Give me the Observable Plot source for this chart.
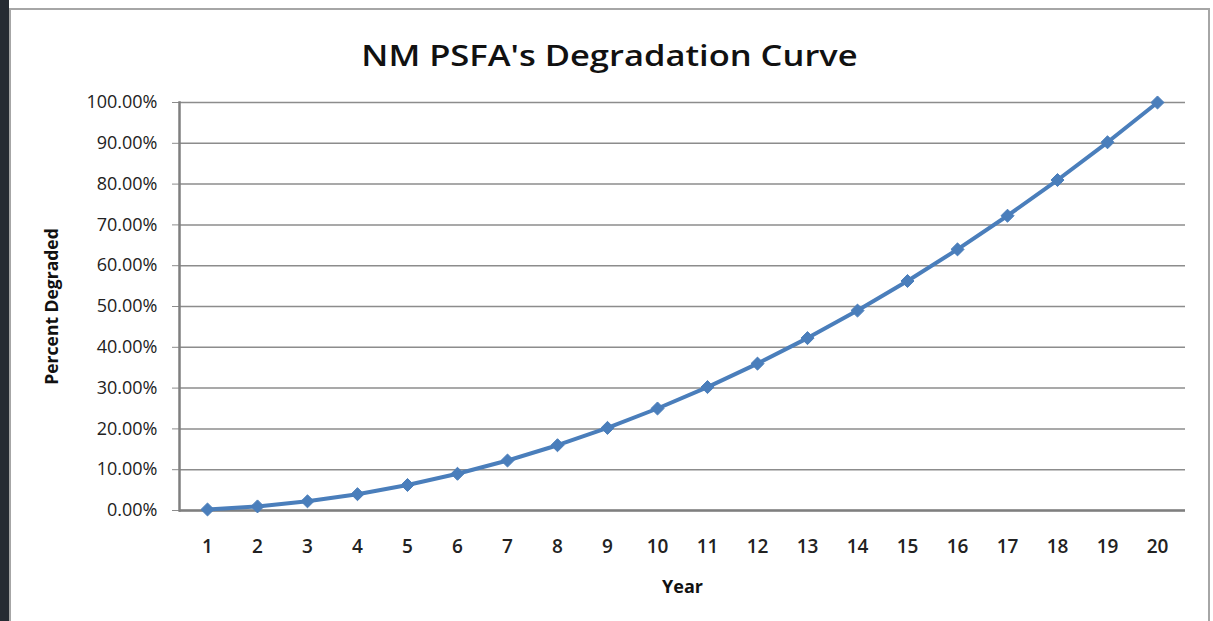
<!DOCTYPE html>
<html>
<head>
<meta charset="utf-8">
<script src="https://cdn.jsdelivr.net/npm/d3@7"></script>
<script src="https://cdn.jsdelivr.net/npm/@observablehq/plot@0.6"></script>
<style>
  html, body { margin: 0; padding: 0; background: #ffffff; width: 1213px; height: 621px; overflow: hidden; }
  #strip { position: absolute; left: 0; top: 0; width: 9px; height: 621px; background: #262b33; }
  #panel { position: absolute; left: 9px; top: 8px; width: 1197px; height: 640px; border: 2px solid #a6a6a6; background: #fff; }
  #title { position: absolute; left: 0; top: 35px; width: 1219px; text-align: center; font-family: "Open Sans", sans-serif; font-weight: 600; font-size: 29px; color: #111; transform: scaleX(1.19); transform-origin: 609.5px 50%; }
  #chart { position: absolute; left: 0; top: 0; }
  #chart svg { background: transparent !important; }
</style>
</head>
<body>
<div id="strip"></div>
<div id="panel"></div>
<div id="title">NM PSFA's Degradation Curve</div>
<div id="chart"></div>
<script>
const years = ["1","2","3","4","5","6","7","8","9","10","11","12","13","14","15","16","17","18","19","20"];
const percentDegraded = [0.0025, 0.01, 0.0225, 0.04, 0.0625, 0.09, 0.1225, 0.16, 0.2025, 0.25, 0.3025, 0.36, 0.4225, 0.49, 0.5625, 0.64, 0.7225, 0.81, 0.9025, 1.0];
const yTicks = [0, 0.1, 0.2, 0.3, 0.4, 0.5, 0.6, 0.7, 0.8, 0.9, 1.0];

const data = years.map((y, i) => ({year: y, value: percentDegraded[i]}));

const diamond = {
  draw(context, size) {
    const h = Math.sqrt(size / 2);
    context.moveTo(0, -h);
    context.lineTo(h, 0);
    context.lineTo(0, h);
    context.lineTo(-h, 0);
    context.closePath();
  }
};

const blue = "#4a7ebb";
const font = "'Open Sans', sans-serif";

const chart = Plot.plot({
  width: 1213,
  height: 621,
  marginLeft: 179,
  marginRight: 28,
  marginTop: 102,
  marginBottom: 111,
  style: { background: "transparent", fontFamily: font, fontSize: "13px", color: "#222" },
  x: { type: "point", domain: years, padding: 0.5, label: null },
  y: { domain: [0, 1], label: null },
  marks: [
    Plot.gridY(yTicks, { stroke: "#8c8c8c", strokeOpacity: 1, strokeWidth: 1.5 }),
    Plot.axisY(yTicks, {
      tickFormat: d3.format(".2%"), tickSize: 7, tickPadding: 15, stroke: "#8c8c8c",
      fontSize: 18, fontWeight: 500, fill: "#222", label: null
    }),
    Plot.axisX({ tickSize: 0, tickPadding: 29, fontSize: 19, fontWeight: 600, fill: "#222", label: null }),
    Plot.frame({ anchor: "left", stroke: "#7f7f7f", strokeWidth: 2.5 }),
    Plot.ruleY([0], { stroke: "#7f7f7f", strokeWidth: 2.5 }),
    Plot.line(data, { x: "year", y: "value", stroke: blue, strokeWidth: 4, curve: "linear" }),
    Plot.dot(data, { x: "year", y: "value", symbol: diamond, r: 5.2, fill: blue, stroke: blue, strokeWidth: 1 }),
    Plot.text(["Year"], { frameAnchor: "bottom", dy: 82, fontWeight: "bold", fontSize: 18, fill: "#111" }),
    Plot.text(["Percent Degraded"], { frameAnchor: "left", textAnchor: "middle", dx: -127, rotate: -90, fontWeight: "bold", fontSize: 17.5, fill: "#111" })
  ]
});
document.getElementById("chart").appendChild(chart);
</script>
</body>
</html>
